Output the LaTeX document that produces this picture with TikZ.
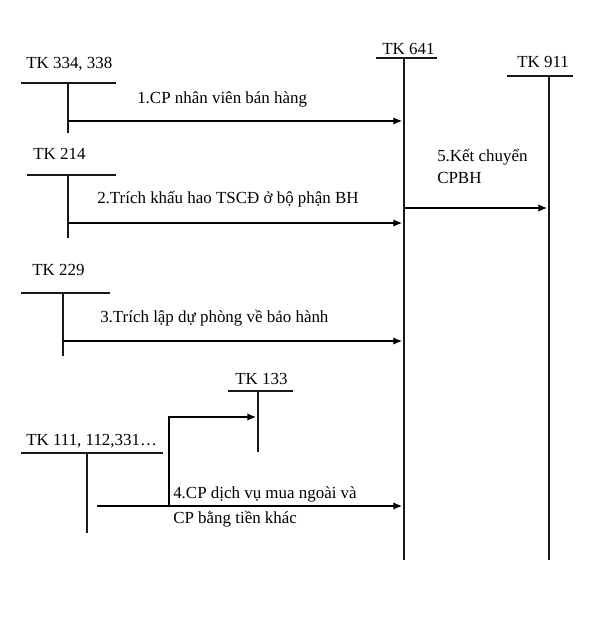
\documentclass[tikz,border=0pt]{standalone}
\usepackage{fontspec}
\setmainfont{Liberation Serif}
\usetikzlibrary{arrows.meta,positioning,calc}

\tikzset{
  txt/.style={font=\fontsize{12.7}{15}\selectfont, inner sep=0pt, anchor=base west},
  tline/.style={line width=0.8pt, black!90},
  flow/.style={line width=0.8pt, -{Latex[length=6.5pt,width=5.5pt]}, shorten >=1.5pt},
}

\begin{document}
\begin{tikzpicture}[x=0.75pt, y=-0.75pt]
\useasboundingbox (0,0) rectangle (597,641);

% T-accounts: name / title / text x / baseline / bar left / bar right / bar y / stem x / stem end
\foreach \n/\t/\tx/\ty/\bl/\br/\by/\vx/\vb in {
  334/{TK 334, 338}/26/69/21/116/83/68/133,
  214/{TK 214}/33/160/27/116/175/68/238,
  229/{TK 229}/32/275/21/110/293/63/356,
  133/{TK 133}/235/384/228/293/391/258/452,
  111/{TK 111, 112,331\ldots}/26/445/21/163/453/87/533,
  641/{TK 641}/382/55/376/437/58/404/560,
  911/{TK 911}/517/68/507/573/76/549/560}{
  \node[txt] (t\n) at (\tx,\ty) {\t};
  \coordinate (top\n) at (\vx,\by);
  \coordinate (bot\n) at (\vx,\vb);
  \draw[tline] (\bl,\by) -- (\br,\by);
  \draw[tline] (top\n) -- (bot\n);
}

% row heights of the entries
\coordinate (y1) at (0,121);
\coordinate (y2) at (0,223);
\coordinate (y3) at (0,341);
\coordinate (y4) at (0,506);
\coordinate (y5) at (0,208);
\coordinate (y6) at (0,417);

% entries to TK 641
\draw[flow] (top334 |- y1) -- (top641 |- y1);
\node[txt] (l1) at (137,104) {1.CP nhân viên bán hàng};

\draw[flow] (top214 |- y2) -- (top641 |- y2);
\node[txt] (l2) at (97,204) {2.Trích khấu hao TSCĐ ở bộ phận BH};

\draw[flow] (top229 |- y3) -- (top641 |- y3);
\node[txt] (l3) at (100,322) {3.Trích lập dự phòng về bảo hành};

% purchased services, with VAT split to TK 133
\coordinate (s4) at (97,506);
\coordinate (k4) at (169,506);
\draw[flow] (s4) -- (top641 |- y4);
\draw[flow] (k4) -- (k4 |- y6) -- (top133 |- y6);
\node[txt] (l4a) at (173,498) {4.CP dịch vụ mua ngoài và};
\node[txt] (l4b) at (173,523) {CP bằng tiền khác};

% closing to TK 911
\draw[flow] (top641 |- y5) -- (top911 |- y5);
\node[txt] (l5a) at (437,162) {5.Kết chuyển};
\node[txt] (l5b) at (437,184) {CPBH};
\end{tikzpicture}
\end{document}
